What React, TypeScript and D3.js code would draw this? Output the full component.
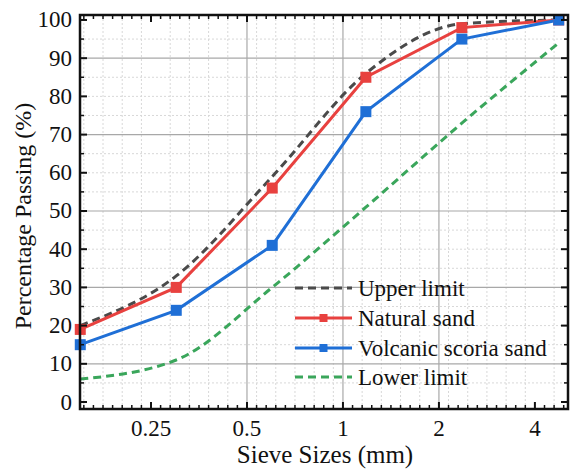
import React, { useEffect, useState } from "react";
import * as d3 from "d3";

const sieveSizes = [0.15, 0.3, 0.6, 1.18, 2.36, 4.75];
const upperLimit = [20, 33, 59, 86, 99, 100];
const naturalSand = [19, 30, 56, 85, 98, 100];
const volcanicSand = [15, 24, 41, 76, 95, 100];
const lowerLimit = [6, 11, 30, 51, 73, 94];
const xTickValues = [0.25, 0.5, 1, 2, 4];
const xTickLabels = ["0.25", "0.5", "1", "2", "4"];
const yTickValues = [0, 10, 20, 30, 40, 50, 60, 70, 80, 90, 100];
const legendLabels = ["Upper limit", "Natural sand", "Volcanic scoria sand", "Lower limit"];

const W = 571;
const H = 472;
const L = 80, R = 568, T = 15, B = 409;

function T2(props: any) {
  const { children, ...rest } = props;
  return (
    <text {...rest} style={{ fontFamily: "Liberation Serif" }} fill="#111">
      {children}
    </text>
  );
}

export default function App() {
  const [, setTick] = useState(0);
  useEffect(() => {
    const fs: any = (document as any).fonts;
    if (fs && fs.load) {
      Promise.all([fs.load('23px "Liberation Serif"'), fs.load('25px "Liberation Serif"')])
        .then(() => setTick((t) => t + 1))
        .catch(() => {});
    }
  }, []);

  const x = d3.scaleLog().base(2).domain([0.1497, 5.08]).range([L, R]);
  const y = d3.scaleLinear().domain([-1.83, 101.3]).range([B, T]);

  const minorX: number[] = [];
  for (let k = -2; k <= 5; k++) {
    for (let j = 1; j < 10; j++) {
      const v = 0.25 * Math.pow(2, k + j / 10);
      if (v > 0.1497 && v < 5.08) minorX.push(v);
    }
  }
  const minorY = d3.range(5, 100, 10);
  const solidY = [10, 30, 50, 70, 90];
  const dottedY = d3.range(5, 100, 5).filter((v) => !solidY.includes(v));
  const solidX = [0.5, 1, 2];
  const dottedX = minorX.filter((_, i) => i % 2 === 0);

  const mk = (vals: number[], curve: any) =>
    d3
      .line<number>()
      .x((_, i) => x(sieveSizes[i]))
      .y((d) => y(d))
      .curve(curve)(vals) as string;

  const red = "#e8413f";
  const blue = "#1f6fd6";
  const green = "#3aa65b";
  const gray = "#4a4a4a";

  const series = [
    { vals: upperLimit, color: gray, dash: "8,5", marker: false, curve: d3.curveMonotoneX },
    { vals: naturalSand, color: red, dash: null, marker: true, curve: d3.curveLinear },
    { vals: volcanicSand, color: blue, dash: null, marker: true, curve: d3.curveLinear },
    { vals: lowerLimit, color: green, dash: "8,5", marker: false, curve: d3.curveMonotoneX },
  ];

  const legY = [288, 318, 348, 377];

  return (
    <svg width={W} height={H} style={{ position: "absolute", left: 0, top: 0 }}>
      <rect x={0} y={0} width={W} height={H} fill="#fff" />
      {dottedX.map((v, i) => (
        <line key={"dx" + i} x1={x(v)} x2={x(v)} y1={T} y2={B} stroke="#d8d8d8" strokeWidth={1} strokeDasharray="2,2" />
      ))}
      {dottedY.map((v, i) => (
        <line key={"dy" + i} x1={L} x2={R} y1={y(v)} y2={y(v)} stroke="#d8d8d8" strokeWidth={1} strokeDasharray="2,2" />
      ))}
      {solidX.map((v, i) => (
        <line key={"sx" + i} x1={x(v)} x2={x(v)} y1={T} y2={B} stroke="#a8a8a8" strokeWidth={1.2} />
      ))}
      {solidY.map((v, i) => (
        <line key={"sy" + i} x1={L} x2={R} y1={y(v)} y2={y(v)} stroke="#a8a8a8" strokeWidth={1.2} />
      ))}

      {series.map((s, i) => (
        <path
          key={"s" + i}
          d={mk(s.vals, s.curve)}
          fill="none"
          stroke={s.color}
          strokeWidth={3}
          strokeDasharray={s.dash || undefined}
        />
      ))}
      {series.map((s, i) =>
        s.marker
          ? s.vals.map((v, j) => (
              <rect key={"m" + i + "-" + j} x={x(sieveSizes[j]) - 5.5} y={y(v) - 5.5} width={11} height={11} fill={s.color} />
            ))
          : null
      )}

      {series.map((s, i) => (
        <g key={"lg" + i}>
          <line x1={295} x2={352} y1={legY[i]} y2={legY[i]} stroke={s.color} strokeWidth={3} strokeDasharray={s.dash || undefined} />
          {s.marker && <rect x={319.5} y={legY[i] - 4} width={8} height={8} fill={s.color} />}
          <T2 x={358} y={legY[i] + 8} fontSize={23}>
            {legendLabels[i]}
          </T2>
        </g>
      ))}

      <rect x={L} y={T} width={R - L} height={B - T} fill="none" stroke="#111" strokeWidth={2.5} />

      {xTickValues.map((v, i) => (
        <g key={"xt" + i}>
          <line x1={x(v)} x2={x(v)} y1={B} y2={B - 7} stroke="#111" strokeWidth={2} />
          <line x1={x(v)} x2={x(v)} y1={T} y2={T + 7} stroke="#111" strokeWidth={2} />
        </g>
      ))}
      {minorX.map((v, i) => (
        <g key={"xm" + i}>
          <line x1={x(v)} x2={x(v)} y1={B} y2={B - 4} stroke="#111" strokeWidth={1.5} />
          <line x1={x(v)} x2={x(v)} y1={T} y2={T + 4} stroke="#111" strokeWidth={1.5} />
        </g>
      ))}
      {xTickValues.map((v, i) => (
        <T2 key={"xl" + i} x={x(v)} y={436} fontSize={23} textAnchor="middle">
          {xTickLabels[i]}
        </T2>
      ))}

      {yTickValues.map((v, i) => (
        <g key={"yt" + i}>
          <line x1={L} x2={L + 7} y1={y(v)} y2={y(v)} stroke="#111" strokeWidth={2} />
          <line x1={R} x2={R - 7} y1={y(v)} y2={y(v)} stroke="#111" strokeWidth={2} />
          <T2 x={72} y={y(v) + 7.5} fontSize={23} textAnchor="end">
            {String(v)}
          </T2>
        </g>
      ))}
      {minorY.map((v, i) => (
        <g key={"ym" + i}>
          <line x1={L} x2={L + 4} y1={y(v)} y2={y(v)} stroke="#111" strokeWidth={1.5} />
          <line x1={R} x2={R - 4} y1={y(v)} y2={y(v)} stroke="#111" strokeWidth={1.5} />
        </g>
      ))}

      <T2 x={325} y={463} fontSize={25} textAnchor="middle">
        Sieve Sizes (mm)
      </T2>
      <T2 transform="translate(31,216) rotate(-90)" fontSize={24} textAnchor="middle">
        Percentage Passing (%)
      </T2>
    </svg>
  );
}
